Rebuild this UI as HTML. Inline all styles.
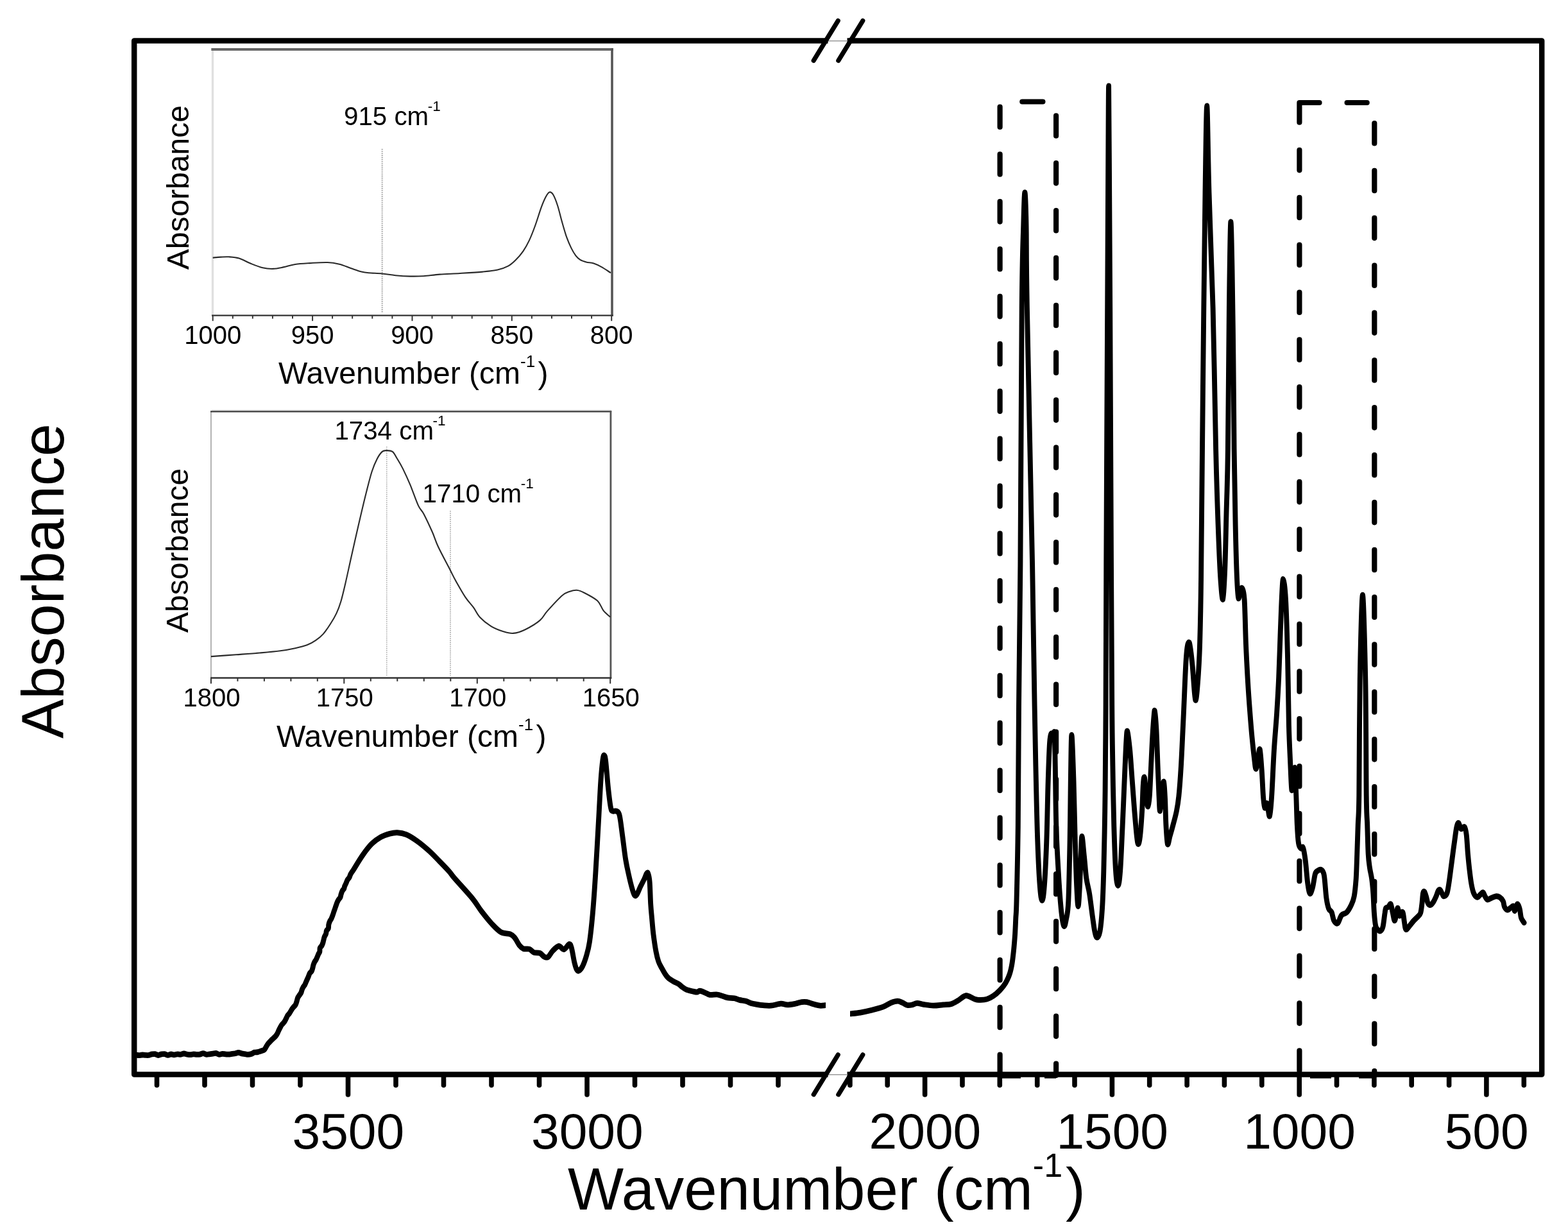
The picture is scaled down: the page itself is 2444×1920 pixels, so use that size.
<!DOCTYPE html>
<html lang="en"><head><meta charset="utf-8"><title>FTIR spectrum</title>
<style>html,body{margin:0;padding:0;background:#fff}svg{display:block}text{font-family:'Liberation Sans', sans-serif;fill:#000}</style>
</head><body>
<svg width="2444" height="1920" viewBox="0 0 2444 1920" role="img" aria-label="FTIR absorbance spectrum with two inset plots">
<rect width="2444" height="1920" fill="#fff"/>
<g id="frame" fill="none" stroke="#000" stroke-width="8.5" stroke-linejoin="round">
<rect x="209.2" y="63.4" width="2194.0" height="1611.1"/>
</g>
<rect x="1290.5" y="58.1" width="30.0" height="10.5" fill="#fff"/>
<line x1="1289.5" y1="63.7" x2="1321.5" y2="63.7" stroke="#999" stroke-width="1.4"/>
<rect x="1290.5" y="1669.2" width="30.0" height="10.5" fill="#fff"/>
<line x1="1289.5" y1="1674.8" x2="1321.5" y2="1674.8" stroke="#999" stroke-width="1.4"/>
<g id="ticks" stroke="#000" stroke-width="7.6" stroke-linecap="round">
<line x1="244.5" y1="1674.5" x2="244.5" y2="1691.2"/>
<line x1="319.0" y1="1674.5" x2="319.0" y2="1691.2"/>
<line x1="393.5" y1="1674.5" x2="393.5" y2="1691.2"/>
<line x1="468.0" y1="1674.5" x2="468.0" y2="1691.2"/>
<line x1="542.5" y1="1674.5" x2="542.5" y2="1706.0"/>
<line x1="617.0" y1="1674.5" x2="617.0" y2="1691.2"/>
<line x1="691.5" y1="1674.5" x2="691.5" y2="1691.2"/>
<line x1="766.0" y1="1674.5" x2="766.0" y2="1691.2"/>
<line x1="840.5" y1="1674.5" x2="840.5" y2="1691.2"/>
<line x1="915.0" y1="1674.5" x2="915.0" y2="1706.0"/>
<line x1="989.5" y1="1674.5" x2="989.5" y2="1691.2"/>
<line x1="1064.0" y1="1674.5" x2="1064.0" y2="1691.2"/>
<line x1="1138.5" y1="1674.5" x2="1138.5" y2="1691.2"/>
<line x1="1213.0" y1="1674.5" x2="1213.0" y2="1691.2"/>
<line x1="1324.9" y1="1674.5" x2="1324.9" y2="1691.2"/>
<line x1="1383.2" y1="1674.5" x2="1383.2" y2="1691.2"/>
<line x1="1441.6" y1="1674.5" x2="1441.6" y2="1706.0"/>
<line x1="1500.0" y1="1674.5" x2="1500.0" y2="1691.2"/>
<line x1="1558.3" y1="1674.5" x2="1558.3" y2="1691.2"/>
<line x1="1616.7" y1="1674.5" x2="1616.7" y2="1691.2"/>
<line x1="1675.0" y1="1674.5" x2="1675.0" y2="1691.2"/>
<line x1="1733.4" y1="1674.5" x2="1733.4" y2="1706.0"/>
<line x1="1791.7" y1="1674.5" x2="1791.7" y2="1691.2"/>
<line x1="1850.1" y1="1674.5" x2="1850.1" y2="1691.2"/>
<line x1="1908.4" y1="1674.5" x2="1908.4" y2="1691.2"/>
<line x1="1966.8" y1="1674.5" x2="1966.8" y2="1691.2"/>
<line x1="2025.2" y1="1674.5" x2="2025.2" y2="1706.0"/>
<line x1="2083.5" y1="1674.5" x2="2083.5" y2="1691.2"/>
<line x1="2141.9" y1="1674.5" x2="2141.9" y2="1691.2"/>
<line x1="2200.2" y1="1674.5" x2="2200.2" y2="1691.2"/>
<line x1="2258.6" y1="1674.5" x2="2258.6" y2="1691.2"/>
<line x1="2316.9" y1="1674.5" x2="2316.9" y2="1706.0"/>
<line x1="2375.3" y1="1674.5" x2="2375.3" y2="1691.2"/>
</g>
<g id="breaks" stroke="#000" stroke-width="7.2" stroke-linecap="round">
<line x1="1268.2" y1="94.4" x2="1306.2" y2="32.4"/>
<line x1="1306.8" y1="94.4" x2="1344.8" y2="32.4"/>
<line x1="1268.2" y1="1705.8" x2="1306.2" y2="1643.8"/>
<line x1="1306.8" y1="1705.8" x2="1344.8" y2="1643.8"/>
</g>
<g id="ticklabels" font-size="78.5" text-anchor="middle">
<text x="542.8" y="1789.6">3500</text>
<text x="915.3" y="1789.6">3000</text>
<text x="1441.9" y="1789.6">2000</text>
<text x="1733.7" y="1789.6">1500</text>
<text x="2025.5" y="1789.6">1000</text>
<text x="2317.2" y="1789.6">500</text>
</g>
<text x="885.0" y="1885.0" font-size="92.3">Wavenumber (cm<tspan font-size="52.0" dx="0.0" dy="-50.8">-1</tspan><tspan dx="5.0" dy="50.8">)</tspan></text>
<text transform="translate(99.0,1151) rotate(-90)" font-size="92.0">Absorbance</text>
<g id="boxes" fill="none" stroke="#000" stroke-width="8.2" stroke-linecap="round" stroke-linejoin="round">
<line x1="1558.6" y1="166.5" x2="1558.6" y2="1676.0" stroke-dasharray="31.40 42.46"/>
<line x1="1646.1" y1="180.3" x2="1646.1" y2="1676.0" stroke-dasharray="31.40 42.46"/>
<line x1="1593.3" y1="158.5" x2="1625.4" y2="158.5"/>
<path d="M2025.4,190.7 V160 H2056.5"/>
<line x1="2025.4" y1="233.9" x2="2025.4" y2="1676.0" stroke-dasharray="31.40 42.46"/>
<line x1="2142.3" y1="192.0" x2="2142.3" y2="1676.0" stroke-dasharray="31.40 42.46"/>
<line x1="2099.6" y1="160" x2="2130.7" y2="160"/>
</g>
<g id="boxbottoms" fill="#000">
<rect x="1562.0" y="1677" width="29.0" height="3.6"/>
<rect x="1628.0" y="1677" width="18.0" height="3.6"/>
<rect x="2042.0" y="1677" width="33.0" height="3.6"/>
<rect x="2118.0" y="1677" width="24.0" height="3.6"/>
</g>
<defs><clipPath id="clipL"><rect x="205" y="60" width="1082.0" height="1620"/></clipPath>
<clipPath id="clipR"><rect x="1325" y="60" width="1085" height="1620"/></clipPath></defs>
<g clip-path="url(#clipL)"><g id="spectrumL" transform="scale(1,1.110)" fill="none" stroke="#000" stroke-width="7.9" stroke-linejoin="round" stroke-linecap="round">
<path d="M211.7,1481.08C212.5,1481.17 215,1481.62 216.7,1481.62C218.4,1481.62 220,1481.11 221.7,1481.08C223.4,1481.05 225,1481.38 226.7,1481.44C228.4,1481.50 230,1481.67 231.7,1481.44C233.4,1481.22 235,1480.36 236.7,1480.09C238.4,1479.82 240,1479.58 241.7,1479.82C243.4,1480.06 245,1481.49 246.7,1481.53C248.4,1481.58 250,1480.36 251.7,1480.09C253.4,1479.82 255,1479.68 256.7,1479.91C258.4,1480.14 260,1481.40 261.7,1481.44C263.4,1481.49 265,1480.27 266.7,1480.18C268.4,1480.09 270,1480.92 271.7,1480.90C273.4,1480.89 275,1480.17 276.7,1480.09C278.4,1480.02 280,1480.59 281.7,1480.45C283.4,1480.32 285,1479.29 286.7,1479.28C288.4,1479.26 290,1480.11 291.7,1480.36C293.4,1480.62 295,1480.87 296.7,1480.81C298.4,1480.75 300,1480.06 301.7,1480.00C303.4,1479.94 305,1480.41 306.7,1480.45C308.4,1480.50 310,1480.53 311.7,1480.27C313.4,1480.02 315,1478.89 316.7,1478.92C318.4,1478.95 320,1480.27 321.7,1480.45C323.4,1480.63 325,1480.18 326.7,1480.00C328.4,1479.82 330,1479.58 331.7,1479.37C333.4,1479.16 335,1478.54 336.7,1478.74C338.4,1478.93 340,1480.41 341.7,1480.54C343.4,1480.68 345,1479.62 346.7,1479.55C348.4,1479.47 350,1479.95 351.7,1480.09C353.4,1480.23 355,1480.45 356.7,1480.36C358.4,1480.27 360,1479.77 361.7,1479.55C363.4,1479.32 365,1479.31 366.7,1479.01C368.4,1478.71 370,1477.72 371.7,1477.75C373.4,1477.78 375,1478.84 376.7,1479.19C378.4,1479.53 380,1479.59 381.7,1479.82C383.4,1480.05 385,1480.56 386.7,1480.54C388.4,1480.53 390,1480.23 391.7,1479.73C393.4,1479.23 395,1478.00 396.7,1477.57C398.4,1477.13 400,1477.43 401.7,1477.12C403.4,1476.80 405,1476.22 406.7,1475.68C408.4,1475.14 410.6,1474.86 411.9,1473.87C413.2,1472.89 413.8,1471.17 414.8,1469.76C415.8,1468.35 416.4,1466.97 417.8,1465.41C419.2,1463.84 421.1,1462.12 423,1460.36C424.9,1458.60 427.9,1456.45 429.5,1454.86C431.1,1453.28 431.6,1452.15 432.4,1450.86C433.2,1449.58 433.5,1448.47 434.2,1447.17C434.9,1445.87 435.7,1444.46 436.5,1443.06C437.3,1441.67 438.1,1440.13 439.2,1438.79C440.3,1437.46 441.8,1436.49 442.9,1435.06C444.1,1433.62 445,1431.74 445.9,1430.18C446.8,1428.62 447.4,1426.97 448.3,1425.71C449.2,1424.46 450.1,1424.09 451.2,1422.64C452.3,1421.20 453.9,1418.50 454.9,1417.04C456,1415.58 456.7,1414.92 457.6,1413.87C458.5,1412.83 459.8,1412.07 460.6,1410.76C461.4,1409.45 461.9,1407.69 462.5,1406.03C463.1,1404.37 463.4,1402.33 464.2,1400.80C464.9,1399.28 466.1,1398.04 467,1396.86C467.9,1395.67 468.7,1394.95 469.3,1393.69C469.9,1392.44 470.3,1390.61 470.8,1389.31C471.4,1388.01 471.9,1386.97 472.6,1385.87C473.3,1384.78 474.3,1383.98 475.1,1382.75C475.8,1381.52 476.5,1379.83 477.1,1378.48C477.8,1377.13 478.4,1375.98 479,1374.65C479.7,1373.31 480.4,1371.87 481,1370.45C481.6,1369.03 482.1,1367.27 482.9,1366.15C483.7,1365.03 484.8,1364.86 485.6,1363.72C486.3,1362.57 486.8,1360.83 487.3,1359.29C487.8,1357.75 488,1355.98 488.6,1354.48C489.1,1352.98 489.8,1351.50 490.5,1350.30C491.2,1349.11 492,1348.49 492.7,1347.30C493.4,1346.11 494.1,1344.52 494.7,1343.17C495.4,1341.83 495.9,1340.38 496.5,1339.22C497.1,1338.06 497.9,1337.58 498.3,1336.21C498.7,1334.84 498.2,1332.45 498.7,1331.02C499.3,1329.59 500.8,1328.86 501.6,1327.61C502.4,1326.36 502.9,1324.84 503.4,1323.54C503.8,1322.24 504,1321.10 504.4,1319.82C504.8,1318.54 504.9,1317.34 505.5,1315.86C506.1,1314.37 507.6,1312.43 508.1,1310.92C508.7,1309.42 508.3,1308.07 508.9,1306.82C509.5,1305.58 511.2,1304.88 511.8,1303.45C512.3,1302.01 512,1299.85 512.3,1298.21C512.7,1296.57 513.3,1294.94 514,1293.62C514.6,1292.30 515.5,1291.59 516.2,1290.27C516.9,1288.95 517.7,1287.04 518.3,1285.72C518.8,1284.40 519.2,1283.46 519.6,1282.34C520,1281.22 520.3,1280.23 520.8,1278.99C521.3,1277.75 521.9,1276.31 522.4,1274.91C522.9,1273.50 523.5,1271.98 524.1,1270.55C524.6,1269.12 525.2,1267.62 525.8,1266.34C526.5,1265.06 527.1,1264.00 527.9,1262.88C528.7,1261.76 529.9,1260.77 530.5,1259.61C531.1,1258.45 531.1,1257.32 531.5,1255.90C532,1254.47 532.6,1252.42 533.4,1251.05C534.1,1249.68 535.5,1248.76 536.2,1247.67C536.8,1246.57 536.6,1245.82 537.1,1244.48C537.7,1243.15 538.9,1241.16 539.6,1239.64C540.3,1238.12 540.7,1236.68 541.6,1235.36C542.4,1234.03 543.8,1233.03 544.6,1231.70C545.4,1230.37 545.7,1228.57 546.4,1227.39C547,1226.21 547.6,1225.72 548.4,1224.60C549.2,1223.47 548.5,1224.62 551.3,1220.63C554.1,1216.64 560.6,1206.61 565.3,1200.63C570,1194.65 574.7,1188.99 579.4,1184.77C584.1,1180.56 588.7,1177.70 593.4,1175.32C598.1,1172.93 603.2,1171.50 607.5,1170.45C611.8,1169.40 614.9,1168.80 619.2,1169.01C623.5,1169.22 628.2,1169.79 633.3,1171.71C638.4,1173.63 643.8,1176.77 649.6,1180.54C655.5,1184.31 662.5,1189.58 668.4,1194.32C674.3,1199.07 679.5,1204.16 684.8,1209.01C690.1,1213.86 696.1,1219.47 700,1223.42C703.9,1227.37 702.1,1226.40 708.1,1232.70C714.1,1239.01 729.2,1253.51 736.2,1261.26C743.2,1269.01 745.2,1273.21 750.3,1279.19C755.4,1285.17 761.6,1292.21 766.7,1297.12C771.8,1302.03 776,1306.26 780.7,1308.65C785.4,1311.04 791.3,1310.21 794.8,1311.44C798.3,1312.67 799.3,1313.33 801.8,1316.04C804.3,1318.74 807.7,1324.98 810,1327.66C812.3,1330.33 813.3,1331.26 815.8,1332.07C818.3,1332.88 822.5,1331.67 825.2,1332.52C827.9,1333.38 829.5,1336.26 832.2,1337.21C834.9,1338.15 838.9,1337.15 841.6,1338.20C844.3,1339.25 846.5,1342.63 848.6,1343.51C850.8,1344.40 852.4,1344.92 854.5,1343.51C856.6,1342.10 858.8,1337.58 861.5,1335.05C864.2,1332.51 868,1328.63 870.9,1328.29C873.8,1327.94 876.4,1333.42 879.1,1332.97C881.8,1332.52 885.3,1325.95 887.3,1325.59C889.2,1325.23 889.4,1326.41 890.8,1330.81C892.2,1335.21 894.1,1346.88 895.5,1351.98C896.9,1357.09 897.8,1359.62 899,1361.44C900.2,1363.26 901,1363.77 902.5,1362.88C904,1362.00 906.3,1359.71 908.3,1356.13C910.2,1352.54 912.4,1346.97 914.2,1341.35C916,1335.74 917.3,1331.92 918.9,1322.43C920.5,1312.94 922,1300.24 923.6,1284.41C925.2,1268.59 926.7,1249.28 928.2,1227.48C929.8,1205.68 931.5,1175.41 932.9,1153.60C934.3,1131.80 935.3,1111.13 936.4,1096.67C937.5,1082.21 938.6,1072.88 939.5,1066.85C940.4,1060.81 941,1060.06 941.8,1060.45C942.6,1060.84 943.2,1061.40 944.2,1069.19C945.2,1076.98 946.8,1096.31 948.1,1107.21C949.4,1118.11 950.9,1129.32 952.1,1134.59C953.3,1139.86 953.7,1138.12 955.2,1138.83C956.7,1139.53 959.2,1137.78 961,1138.83C962.8,1139.88 964.1,1139.16 965.7,1145.14C967.3,1151.11 968.8,1164.47 970.4,1174.68C972,1184.89 973.5,1197.60 975.1,1206.40C976.7,1215.20 978,1220.45 979.8,1227.48C981.5,1234.50 984,1243.63 985.6,1248.56C987.2,1253.48 987.9,1255.80 989.1,1257.03C990.3,1258.26 991,1258.06 992.6,1255.95C994.2,1253.83 996.5,1248.02 998.5,1244.32C1000.5,1240.63 1002.8,1236.77 1004.4,1233.78C1006,1230.80 1006.9,1227.63 1007.9,1226.40C1008.9,1225.17 1009.4,1224.46 1010.2,1226.40C1011,1228.33 1011.9,1230.86 1012.6,1238.02C1013.3,1245.18 1013.6,1260.77 1014.2,1269.37C1014.8,1277.97 1015.4,1282.39 1016.1,1289.64C1016.8,1296.89 1017.5,1305.15 1018.6,1312.88C1019.7,1320.62 1021.2,1329.85 1022.5,1336.04C1023.8,1342.22 1024.9,1346.13 1026.4,1350.00C1027.9,1353.87 1029.8,1356.38 1031.5,1359.28C1033.2,1362.18 1035,1365.08 1036.7,1367.39C1038.4,1369.70 1039.7,1371.41 1041.8,1373.15C1043.9,1374.89 1046.9,1376.47 1049.5,1377.84C1052.1,1379.20 1054.9,1380.00 1057.3,1381.35C1059.7,1382.70 1061.6,1384.59 1063.7,1385.95C1065.8,1387.30 1067.3,1388.45 1070.1,1389.46C1072.9,1390.47 1077.7,1391.41 1080.5,1391.98C1083.3,1392.55 1085.2,1393.02 1086.9,1392.88C1088.6,1392.75 1088.9,1391.07 1090.8,1391.17C1092.7,1391.28 1095.9,1392.60 1098.5,1393.51C1101.1,1394.43 1103,1396.19 1106.2,1396.67C1109.4,1397.15 1114.4,1396.05 1117.8,1396.40C1121.2,1396.74 1124,1398.00 1126.8,1398.74C1129.6,1399.47 1131.5,1400.33 1134.5,1400.81C1137.5,1401.29 1141.8,1401.10 1144.8,1401.62C1147.8,1402.15 1149.6,1403.29 1152.6,1403.96C1155.6,1404.64 1159.9,1404.91 1162.9,1405.68C1165.9,1406.44 1167.8,1407.79 1170.6,1408.56C1173.4,1409.32 1176.9,1409.79 1180,1410.27C1183.1,1410.75 1185.5,1411.17 1189.1,1411.44C1192.7,1411.71 1197.1,1412.27 1201.8,1411.89C1206.5,1411.52 1212.8,1409.38 1217,1409.19C1221.2,1408.99 1223.3,1410.72 1227.1,1410.72C1230.9,1410.72 1235.9,1409.83 1239.7,1409.19C1243.5,1408.54 1246.9,1407.24 1249.9,1406.85C1252.9,1406.46 1254.5,1406.38 1257.5,1406.85C1260.5,1407.31 1264.2,1408.80 1267.6,1409.64C1271,1410.48 1274.5,1411.59 1277.7,1411.89C1280.9,1412.19 1285,1411.52 1286.5,1411.44"/>
</g></g>
<g clip-path="url(#clipR)"><g id="spectrumR" transform="scale(1,1.110)" fill="none" stroke="#000" stroke-width="7.9" stroke-linejoin="round" stroke-linecap="round">
<path d="M1325.3,1423.33C1327.9,1423.06 1335.4,1422.55 1340.9,1421.71C1346.5,1420.87 1352.7,1419.62 1358.6,1418.29C1364.5,1416.95 1371.3,1415.44 1376.4,1413.69C1381.5,1411.95 1385.2,1409.20 1389,1407.84C1392.8,1406.47 1396.1,1405.50 1399.1,1405.50C1402,1405.50 1404.2,1406.88 1406.7,1407.84C1409.2,1408.80 1411.8,1410.78 1414.3,1411.26C1416.8,1411.74 1419.4,1411.19 1421.9,1410.72C1424.4,1410.26 1426.5,1408.54 1429.5,1408.47C1432.5,1408.39 1435.4,1409.70 1439.6,1410.27C1443.8,1410.84 1449.7,1411.82 1454.8,1411.89C1459.9,1411.97 1465.4,1411.10 1470,1410.72C1474.6,1410.35 1478.8,1410.59 1482.6,1409.64C1486.4,1408.69 1489.8,1406.64 1492.7,1405.05C1495.7,1403.45 1498.2,1401.31 1500.3,1400.09C1502.4,1398.87 1503.5,1397.87 1505.4,1397.75C1507.3,1397.63 1509.2,1398.45 1511.7,1399.37C1514.2,1400.29 1517.8,1402.48 1520.6,1403.24C1523.3,1404.01 1525.2,1404.04 1528.2,1403.96C1531.2,1403.89 1534.9,1403.75 1538.3,1402.79C1541.7,1401.83 1545,1400.29 1548.4,1398.20C1551.8,1396.11 1555.3,1393.30 1558.5,1390.27C1561.7,1387.24 1564.9,1383.80 1567.4,1380.00C1569.9,1376.20 1572,1372.04 1573.7,1367.48C1575.4,1362.91 1576.5,1358.12 1577.5,1352.61C1578.5,1347.10 1579.2,1341.25 1580,1334.41C1580.8,1327.58 1581.5,1319.22 1582.1,1311.62C1582.6,1304.02 1582.9,1296.56 1583.3,1288.83C1583.7,1281.10 1583.9,1286.73 1584.5,1265.23C1585.1,1243.72 1586.2,1205.53 1586.8,1159.82C1587.4,1114.11 1587.4,1052.16 1588,990.99C1588.6,929.82 1589.6,885.89 1590.4,792.79C1591.2,699.70 1591.9,512.01 1592.7,432.43C1593.5,352.85 1594.5,342.34 1595.3,315.32C1596.1,288.29 1596.7,270.27 1597.4,270.27C1598.1,270.27 1598.9,288.29 1599.5,315.32C1600.1,342.34 1599.3,352.85 1600.9,432.43C1602.5,512.01 1607.1,699.70 1609.1,792.79C1611,885.89 1611.6,940.38 1612.6,990.99C1613.6,1041.61 1614.1,1064.83 1614.9,1096.49C1615.7,1128.14 1616.3,1156.29 1617.3,1180.90C1618.3,1205.51 1619.6,1230.24 1620.8,1244.14C1622,1258.05 1623.1,1264.32 1624.3,1264.32C1625.5,1264.32 1626.6,1258.05 1627.8,1244.14C1629,1230.24 1630.3,1205.51 1631.3,1180.90C1632.3,1156.29 1632.9,1119.35 1633.7,1096.49C1634.5,1073.62 1635.2,1054.77 1636,1043.69C1636.8,1032.61 1637.5,1031.58 1638.4,1030.00C1639.3,1028.42 1640.4,1034.28 1641.3,1034.23C1642.2,1034.19 1643,1022.67 1643.6,1029.73C1644.2,1036.79 1644.3,1054.95 1644.8,1076.58C1645.2,1098.20 1645.5,1135.14 1646.3,1159.46C1647.1,1183.78 1648.3,1203.15 1649.6,1222.52C1650.8,1241.89 1652.4,1262.76 1653.8,1275.68C1655.2,1288.59 1656.8,1297.60 1658.2,1300.00C1659.6,1302.40 1660.8,1295.89 1662,1290.09C1663.2,1284.29 1664.4,1283.42 1665.3,1265.23C1666.2,1247.03 1667,1209.02 1667.6,1180.90C1668.2,1152.78 1668.3,1121.31 1668.8,1096.49C1669.3,1071.67 1669.6,1031.98 1670.4,1031.98C1671.2,1031.98 1672.6,1071.67 1673.5,1096.49C1674.4,1121.31 1675,1156.29 1675.8,1180.90C1676.6,1205.51 1677.4,1228.86 1678.2,1244.14C1679,1259.43 1679.7,1272.61 1680.5,1272.61C1681.3,1272.61 1682.2,1255.92 1682.9,1244.14C1683.6,1232.37 1684.1,1213.62 1684.7,1201.98C1685.3,1190.35 1685.5,1174.32 1686.4,1174.32C1687.3,1174.32 1688.7,1192.10 1689.9,1201.98C1691.1,1211.86 1692,1224.82 1693.4,1233.60C1694.8,1242.39 1696.5,1245.89 1698.1,1254.68C1699.7,1263.48 1701.4,1277.60 1702.8,1286.40C1704.2,1295.20 1705.1,1302.49 1706.3,1307.48C1707.5,1312.46 1708.4,1316.31 1709.8,1316.31C1711.2,1316.31 1713.1,1314.22 1714.5,1307.48C1715.9,1300.74 1717,1289.92 1718,1275.86C1719,1261.79 1719.6,1245.93 1720.3,1223.06C1721,1200.20 1721.7,1166.77 1722.2,1138.65C1722.7,1110.53 1722.9,1078.93 1723.1,1054.32C1723.3,1029.71 1723.4,1034.58 1723.6,990.99C1723.8,947.40 1723.9,885.89 1724.3,792.79C1724.7,699.70 1725.7,527.03 1726.2,432.43C1726.7,337.84 1727,277.18 1727.3,225.23C1727.6,173.27 1727.8,120.72 1728.1,120.72C1728.4,120.72 1728.6,173.27 1728.9,225.23C1729.2,277.18 1729.7,337.84 1730.2,432.43C1730.7,527.03 1731.5,699.70 1732,792.79C1732.5,885.89 1732.8,943.89 1733.2,990.99C1733.6,1038.09 1733.9,1047.27 1734.4,1075.41C1734.9,1103.54 1735.5,1135.21 1736.3,1159.82C1737.1,1184.43 1738,1209.11 1739.1,1223.06C1740.1,1237.01 1741.4,1243.51 1742.6,1243.51C1743.8,1243.51 1744.9,1237.01 1746.1,1223.06C1747.3,1209.11 1748.4,1182.67 1749.6,1159.82C1750.8,1136.97 1752.1,1105.99 1753.1,1085.95C1754.1,1065.90 1754.8,1049.40 1755.5,1039.55C1756.2,1029.70 1756.3,1024.38 1757.3,1026.85C1758.3,1029.31 1760,1042.72 1761.3,1054.32C1762.5,1065.93 1763.6,1082.43 1764.8,1096.49C1766,1110.54 1767.1,1125.65 1768.3,1138.65C1769.5,1151.65 1770.9,1166.76 1771.9,1174.50C1772.9,1182.25 1773.4,1185.14 1774.2,1185.14C1775,1185.14 1776,1182.25 1777,1174.50C1778,1166.76 1779.3,1150.95 1780.1,1138.65C1780.9,1126.35 1781.2,1108.45 1781.9,1100.72C1782.6,1092.99 1783.1,1088.74 1784,1092.25C1784.9,1095.77 1786.2,1115.12 1787.1,1121.80C1788,1128.48 1788.6,1133.05 1789.4,1132.34C1790.2,1131.64 1791,1127.06 1791.8,1117.57C1792.6,1108.08 1793.3,1089.47 1794.1,1075.41C1794.9,1061.34 1795.6,1045.17 1796.4,1033.15C1797.2,1021.14 1798.2,1009.01 1798.8,1003.33C1799.4,997.66 1799.4,995.89 1800,999.10C1800.6,1002.31 1801.5,1009.89 1802.3,1022.61C1803.1,1035.33 1803.9,1059.58 1804.6,1075.41C1805.3,1091.23 1805.9,1107.03 1806.5,1117.57C1807.1,1128.11 1807.3,1139.47 1808.1,1138.65C1808.9,1137.82 1810.5,1119.46 1811.5,1112.61C1812.5,1105.77 1813.2,1096.07 1814,1097.57C1814.8,1099.07 1815.4,1111.25 1816,1121.62C1816.6,1132.00 1816.8,1149.23 1817.5,1159.82C1818.2,1170.41 1818.9,1182.69 1819.9,1185.14C1820.9,1187.58 1821.9,1179.43 1823.4,1174.50C1825,1169.58 1827.5,1161.56 1829.2,1155.59C1831,1149.61 1832.5,1144.98 1833.9,1138.65C1835.3,1132.31 1836.2,1128.11 1837.4,1117.57C1838.6,1107.03 1839.7,1093.50 1840.9,1075.41C1842.1,1057.31 1843.1,1034.71 1844.5,1009.01C1845.9,983.30 1847.5,938.98 1849.1,921.17C1850.6,903.36 1852.3,900.41 1853.8,902.16C1855.3,903.92 1856.9,919.76 1858.3,931.71C1859.7,943.66 1861,965.62 1862,973.87C1863,982.13 1863.4,985.92 1864.4,981.26C1865.4,976.61 1866.9,959.34 1867.9,945.95C1868.9,932.55 1869.5,923.42 1870.2,900.90C1870.9,878.38 1871.5,855.86 1872.1,810.81C1872.7,765.77 1873.3,693.69 1874,630.63C1874.7,567.57 1875.5,492.49 1876.3,432.43C1877,372.37 1877.7,317.57 1878.5,270.27C1879.3,222.97 1880.2,148.65 1881.2,148.65C1882.2,148.65 1882.9,222.97 1884.5,270.27C1886.1,317.57 1888.8,372.37 1890.6,432.43C1892.4,492.49 1893.8,580.02 1895.1,630.63C1896.4,681.25 1897.4,706.25 1898.6,736.13C1899.8,766.01 1901,792.33 1902.2,809.91C1903.5,827.49 1904.9,843.36 1906.1,841.62C1907.3,839.88 1908.3,819.61 1909.2,799.46C1910.1,779.31 1910.7,748.86 1911.5,720.72C1912.3,692.58 1913.2,678.68 1913.9,630.63C1914.6,582.58 1915.2,485.44 1915.9,432.43C1916.6,379.43 1917.4,321.62 1918.2,312.61C1919,303.60 1919.8,346.40 1920.5,378.38C1921.2,410.36 1921.9,462.46 1922.4,504.50C1922.9,546.55 1923.1,592.03 1923.6,630.63C1924.1,669.23 1924.9,706.25 1925.6,736.13C1926.3,766.01 1927.1,792.66 1927.9,809.91C1928.7,827.16 1929.5,836.19 1930.3,839.64C1931.1,843.09 1932,832.94 1933,830.63C1934,828.32 1935,823.93 1936.1,825.77C1937.2,827.60 1938.6,828.44 1939.6,841.62C1940.6,854.80 1941.1,885.53 1942,904.86C1942.9,924.20 1944,942.28 1945,957.66C1946,973.03 1946.9,984.20 1948,997.12C1949.1,1010.03 1950.3,1023.87 1951.5,1035.14C1952.7,1046.40 1954,1057.30 1955,1064.68C1956,1072.07 1956.5,1078.98 1957.4,1079.46C1958.3,1079.94 1959.5,1072.15 1960.5,1067.57C1961.5,1062.99 1962.7,1049.65 1963.7,1051.98C1964.7,1054.31 1965.8,1070.27 1966.7,1081.53C1967.6,1092.79 1968.3,1110.75 1969.1,1119.55C1969.9,1128.35 1970.4,1132.93 1971.4,1134.32C1972.4,1135.72 1973.7,1125.99 1974.9,1127.93C1976.2,1129.86 1977.7,1147.75 1978.9,1145.95C1980.1,1144.14 1981.1,1132.43 1982.2,1117.12C1983.3,1101.80 1984.5,1073.57 1985.8,1054.05C1987.1,1034.53 1989,1017.27 1990.2,1000.00C1991.4,982.73 1992.3,969.22 1993.2,950.45C1994.1,931.68 1994.9,905.86 1995.7,887.39C1996.5,868.92 1997.1,852.01 1997.8,839.64C1998.5,827.27 1999.1,812.82 2000.1,813.15C2001.1,813.48 2002.8,822.81 2004,841.62C2005.2,860.44 2006.3,896.59 2007.1,926.04C2007.9,955.48 2008.2,994.13 2008.9,1018.29C2009.6,1042.45 2010.5,1055.87 2011.2,1070.99C2012,1086.11 2012.6,1105.08 2013.4,1109.01C2014.2,1112.94 2015.2,1099.70 2016,1094.59C2016.8,1089.49 2017.6,1074.62 2018.3,1078.38C2019,1082.13 2019.7,1103.90 2020.3,1117.12C2020.9,1130.33 2021.2,1146.55 2021.8,1157.66C2022.4,1168.77 2023,1178.23 2024,1183.78C2025,1189.34 2026.3,1189.92 2027.5,1190.99C2028.7,1192.06 2029.9,1187.33 2031.1,1190.18C2032.3,1193.03 2033.5,1199.85 2034.7,1208.11C2035.9,1216.37 2037,1232.00 2038.2,1239.73C2039.4,1247.46 2040.4,1253.47 2041.7,1254.50C2043,1255.54 2044.6,1250.51 2046,1245.95C2047.4,1241.38 2048.6,1231.02 2049.9,1227.12C2051.2,1223.21 2052.4,1223.51 2054,1222.52C2055.6,1221.53 2057.7,1220.06 2059.3,1221.17C2061,1222.28 2062.6,1222.57 2063.9,1229.19C2065.2,1235.81 2066.2,1253.15 2067.4,1260.90C2068.6,1268.65 2069.6,1272.34 2071,1275.68C2072.4,1279.01 2074.2,1278.09 2075.6,1280.90C2077,1283.71 2077.6,1289.95 2079.2,1292.52C2080.8,1295.09 2083.1,1297.54 2085,1296.31C2086.9,1295.08 2088.6,1287.70 2090.9,1285.14C2093.2,1282.57 2096.6,1283.30 2099.1,1280.90C2101.6,1278.50 2104.2,1274.47 2106.1,1270.72C2108,1266.97 2109.4,1264.55 2110.7,1258.38C2112,1252.21 2112.9,1243.53 2113.7,1233.69C2114.4,1223.86 2114.7,1211.94 2115.2,1199.37C2115.7,1186.80 2116.2,1172.00 2116.7,1158.29C2117.2,1144.58 2117.8,1151.01 2118.3,1117.12C2118.8,1083.23 2118.8,1001.92 2119.7,954.95C2120.6,907.99 2122.5,835.32 2123.9,835.32C2125.3,835.32 2127.3,907.99 2128.3,954.95C2129.3,1001.92 2129.2,1083.23 2129.7,1117.12C2130.2,1151.01 2130.7,1144.58 2131.2,1158.29C2131.7,1172.00 2132.1,1189.31 2132.7,1199.37C2133.3,1209.43 2134.1,1212.93 2135,1218.65C2135.9,1224.37 2137.2,1227.76 2138.1,1233.69C2139,1239.62 2139.7,1246.23 2140.3,1254.23C2140.9,1262.24 2141.3,1274.16 2141.9,1281.71C2142.5,1289.26 2143.2,1295.66 2144.1,1299.55C2145,1303.44 2145.9,1303.80 2147.2,1305.05C2148.5,1306.29 2150.4,1307.72 2151.8,1307.03C2153.2,1306.34 2154.5,1305.12 2155.6,1300.90C2156.7,1296.68 2157.8,1286.05 2158.6,1281.71C2159.3,1277.37 2159.2,1276.25 2160.1,1274.86C2161,1273.48 2162.6,1274.34 2163.9,1273.42C2165.2,1272.51 2166.5,1267.99 2167.7,1269.37C2168.8,1270.75 2169.8,1277.82 2170.8,1281.71C2171.8,1285.60 2172.8,1292.70 2173.8,1292.70C2174.8,1292.70 2176.1,1284.68 2176.9,1281.71C2177.7,1278.74 2177.9,1274.19 2178.7,1274.86C2179.4,1275.54 2180.5,1284.73 2181.4,1285.77C2182.3,1286.80 2183.1,1281.76 2184,1281.08C2184.9,1280.41 2186,1279.32 2186.8,1281.71C2187.7,1284.10 2188.3,1291.52 2189.1,1295.41C2189.8,1299.29 2189.9,1304.35 2191.3,1305.05C2192.7,1305.74 2195.4,1301.61 2197.4,1299.55C2199.4,1297.49 2201.5,1294.76 2203.5,1292.70C2205.5,1290.65 2207.8,1289.04 2209.6,1287.21C2211.4,1285.38 2213,1284.91 2214.2,1281.71C2215.3,1278.51 2215.9,1272.60 2216.5,1268.02C2217.1,1263.44 2217.4,1256.88 2218,1254.23C2218.6,1251.59 2219.4,1251.25 2220.3,1252.16C2221.2,1253.08 2222.4,1257.09 2223.3,1259.73C2224.2,1262.37 2224.6,1266.19 2225.6,1268.02C2226.6,1269.85 2228,1270.96 2229.4,1270.72C2230.8,1270.48 2232.5,1268.63 2234,1266.58C2235.5,1264.52 2237.2,1261.01 2238.5,1258.38C2239.8,1255.75 2240.6,1252.30 2241.6,1250.81C2242.6,1249.32 2243.5,1248.65 2244.6,1249.46C2245.7,1250.27 2247.4,1254.19 2248.4,1255.68C2249.4,1257.16 2249.5,1258.62 2250.7,1258.38C2251.8,1258.14 2254,1257.21 2255.3,1254.23C2256.6,1251.26 2257.3,1246.25 2258.3,1240.54C2259.3,1234.83 2260.4,1226.86 2261.4,1220.00C2262.4,1213.14 2263.4,1206.23 2264.4,1199.37C2265.4,1192.51 2266.5,1185.23 2267.5,1178.83C2268.5,1172.43 2269.5,1164.88 2270.5,1160.99C2271.5,1157.10 2272.4,1155.03 2273.5,1155.50C2274.6,1155.96 2275.8,1162.87 2277.3,1163.78C2278.8,1164.70 2281.3,1159.62 2282.7,1160.99C2284.1,1162.36 2284.8,1165.59 2285.7,1171.98C2286.6,1178.38 2287.2,1191.37 2288,1199.37C2288.8,1207.37 2289.4,1213.14 2290.3,1220.00C2291.2,1226.86 2292.2,1234.83 2293.3,1240.54C2294.4,1246.25 2295.6,1251.04 2297.1,1254.23C2298.6,1257.43 2300.7,1259.49 2302.5,1259.73C2304.3,1259.97 2306.3,1256.82 2307.8,1255.68C2309.3,1254.53 2310.5,1252.43 2311.6,1252.88C2312.7,1253.33 2313.4,1256.67 2314.6,1258.38C2315.8,1260.09 2317,1262.70 2318.5,1263.15C2320,1263.60 2321.7,1261.88 2323.8,1261.08C2326,1260.29 2329.1,1258.60 2331.4,1258.38C2333.7,1258.15 2335.6,1258.59 2337.5,1259.73C2339.4,1260.87 2341.5,1262.94 2342.8,1265.23C2344.1,1267.51 2343.9,1271.37 2345.1,1273.42C2346.2,1275.48 2348.2,1277.33 2349.7,1277.57C2351.2,1277.81 2352.7,1275.78 2354.2,1274.86C2355.7,1273.95 2357.7,1271.40 2358.8,1272.07C2360,1272.75 2360.1,1279.37 2361.1,1278.92C2362.1,1278.47 2363.6,1269.82 2364.9,1269.37C2366.2,1268.92 2367.7,1273.02 2368.7,1276.22C2369.7,1279.41 2369.9,1285.36 2371,1288.56C2372.1,1291.76 2374.8,1294.26 2375.5,1295.41"/>
</g></g>
<g id="inset1">
<line x1="331.5" y1="78" x2="331.5" y2="491" stroke="#e0e0e0" stroke-width="3.4"/>
<line x1="329.3" y1="76.9" x2="956" y2="76.9" stroke="#666" stroke-width="4"/>
<line x1="954" y1="75" x2="954" y2="492.6" stroke="#555" stroke-width="3.6"/>
<line x1="330" y1="491.6" x2="955.8" y2="491.6" stroke="#333" stroke-width="2.3"/>
<g stroke="#333" stroke-width="2">
<line x1="331.7" y1="491.6" x2="331.7" y2="500.2"/>
<line x1="362.8" y1="491.6" x2="362.8" y2="496.6"/>
<line x1="393.8" y1="491.6" x2="393.8" y2="496.6"/>
<line x1="424.9" y1="491.6" x2="424.9" y2="496.6"/>
<line x1="456.0" y1="491.6" x2="456.0" y2="496.6"/>
<line x1="487.1" y1="491.6" x2="487.1" y2="500.2"/>
<line x1="518.1" y1="491.6" x2="518.1" y2="496.6"/>
<line x1="549.2" y1="491.6" x2="549.2" y2="496.6"/>
<line x1="580.3" y1="491.6" x2="580.3" y2="496.6"/>
<line x1="611.4" y1="491.6" x2="611.4" y2="496.6"/>
<line x1="642.5" y1="491.6" x2="642.5" y2="500.2"/>
<line x1="673.5" y1="491.6" x2="673.5" y2="496.6"/>
<line x1="704.6" y1="491.6" x2="704.6" y2="496.6"/>
<line x1="735.7" y1="491.6" x2="735.7" y2="496.6"/>
<line x1="766.8" y1="491.6" x2="766.8" y2="496.6"/>
<line x1="797.8" y1="491.6" x2="797.8" y2="500.2"/>
<line x1="828.9" y1="491.6" x2="828.9" y2="496.6"/>
<line x1="860.0" y1="491.6" x2="860.0" y2="496.6"/>
<line x1="891.0" y1="491.6" x2="891.0" y2="496.6"/>
<line x1="922.1" y1="491.6" x2="922.1" y2="496.6"/>
<line x1="953.2" y1="491.6" x2="953.2" y2="500.2"/>
</g>
<g font-size="40" text-anchor="middle">
<text x="331.7" y="536.2">1000</text>
<text x="487.1" y="536.2">950</text>
<text x="642.5" y="536.2">900</text>
<text x="797.8" y="536.2">850</text>
<text x="953.2" y="536.2">800</text>
</g>
<text x="434.0" y="598.0" font-size="48.0">Wavenumber (cm<tspan font-size="26.0" dx="0.0" dy="-25.7">-1</tspan><tspan dx="4.5" dy="25.7">)</tspan></text>
<text transform="translate(293.6,420.3) rotate(-90)" font-size="48">Absorbance</text>
<line x1="595.7" y1="232" x2="595.7" y2="487" stroke="#aaa" stroke-width="2.4" stroke-dasharray="1.6 1.6"/>
<text x="536.0" y="194.8" font-size="40.3">915 cm<tspan font-size="22.5" dx="-1.5" dy="-22.3">-1</tspan></text>
<path d="M331.7,401.60C333.8,401.43 339.9,400.82 344.0,400.60C348.1,400.38 351.7,399.97 356.5,400.30C361.3,400.63 366.9,400.85 372.6,402.60C378.4,404.35 384.9,408.35 391.0,410.80C397.1,413.25 403.6,415.95 409.4,417.30C415.1,418.65 420.1,419.05 425.5,418.90C430.9,418.75 435.9,417.55 441.6,416.40C447.4,415.25 453.1,413.05 460.0,412.00C466.9,410.95 474.6,410.60 483.0,410.10C491.4,409.60 502.9,408.72 510.6,409.00C518.3,409.28 522.9,410.27 529.0,411.80C535.1,413.33 541.6,416.25 547.4,418.20C553.1,420.15 558.9,422.32 563.5,423.50C568.1,424.68 569.6,424.80 575.0,425.30C580.4,425.80 588.8,425.85 595.7,426.50C602.6,427.15 609.1,428.52 616.4,429.20C623.7,429.88 632.1,430.43 639.4,430.60C646.7,430.77 652.4,430.70 660.1,430.20C667.8,429.70 675.9,428.30 685.4,427.60C694.9,426.90 705.9,426.67 717.0,426.00C728.1,425.33 742.4,424.50 752.2,423.60C762.0,422.70 769.0,422.08 775.6,420.60C782.2,419.12 787.3,417.25 792.0,414.70C796.7,412.15 799.8,409.20 803.7,405.30C807.6,401.40 812.0,396.37 815.5,391.30C819.0,386.23 821.7,381.53 824.8,374.90C827.9,368.27 831.1,360.08 834.2,351.50C837.3,342.92 840.9,330.82 843.6,323.40C846.3,315.98 848.5,310.98 850.6,307.00C852.7,303.02 854.5,300.08 856.4,299.50C858.3,298.92 860.1,299.92 862.3,303.50C864.4,307.08 867.0,313.78 869.3,321.00C871.6,328.22 873.9,338.60 876.3,346.80C878.6,355.00 881.0,363.57 883.4,370.20C885.8,376.83 888.1,381.92 890.4,386.60C892.7,391.28 895.1,395.25 897.4,398.30C899.7,401.35 901.7,403.22 904.4,404.90C907.1,406.58 910.3,407.47 913.8,408.40C917.3,409.33 921.6,409.25 925.5,410.50C929.4,411.75 932.8,413.45 937.2,415.90C941.6,418.35 949.5,423.65 952.0,425.20" fill="none" stroke="#2a2a2a" stroke-width="2.1"/>
</g>
<g id="inset2">
<line x1="330" y1="639.2" x2="953" y2="639.2" stroke="#ddd" stroke-width="1.6"/>
<line x1="328.9" y1="641" x2="328.9" y2="1057" stroke="#aaa" stroke-width="1.8"/>
<line x1="328" y1="641.3" x2="953.2" y2="641.3" stroke="#3a3a3a" stroke-width="2.2"/>
<line x1="951.9" y1="640.2" x2="951.9" y2="1057.8" stroke="#555" stroke-width="2.8"/>
<line x1="328" y1="1056.6" x2="953.2" y2="1056.6" stroke="#333" stroke-width="2.5"/>
<g stroke="#333" stroke-width="2">
<line x1="328.9" y1="1056.6" x2="328.9" y2="1065.4"/>
<line x1="370.4" y1="1056.6" x2="370.4" y2="1061.8"/>
<line x1="411.9" y1="1056.6" x2="411.9" y2="1061.8"/>
<line x1="453.4" y1="1056.6" x2="453.4" y2="1061.8"/>
<line x1="494.8" y1="1056.6" x2="494.8" y2="1061.8"/>
<line x1="536.3" y1="1056.6" x2="536.3" y2="1065.4"/>
<line x1="577.8" y1="1056.6" x2="577.8" y2="1061.8"/>
<line x1="619.3" y1="1056.6" x2="619.3" y2="1061.8"/>
<line x1="660.8" y1="1056.6" x2="660.8" y2="1061.8"/>
<line x1="702.3" y1="1056.6" x2="702.3" y2="1061.8"/>
<line x1="743.8" y1="1056.6" x2="743.8" y2="1065.4"/>
<line x1="785.3" y1="1056.6" x2="785.3" y2="1061.8"/>
<line x1="826.7" y1="1056.6" x2="826.7" y2="1061.8"/>
<line x1="868.2" y1="1056.6" x2="868.2" y2="1061.8"/>
<line x1="909.7" y1="1056.6" x2="909.7" y2="1061.8"/>
<line x1="951.2" y1="1056.6" x2="951.2" y2="1065.4"/>
</g>
<g font-size="40" text-anchor="middle">
<text x="329.9" y="1100.8">1800</text>
<text x="537.3" y="1100.8">1750</text>
<text x="744.8" y="1100.8">1700</text>
<text x="952.2" y="1100.8">1650</text>
</g>
<text x="431.0" y="1164.0" font-size="48.0">Wavenumber (cm<tspan font-size="26.0" dx="0.0" dy="-25.7">-1</tspan><tspan dx="4.5" dy="25.7">)</tspan></text>
<text transform="translate(293.0,986) rotate(-90)" font-size="48">Absorbance</text>
<line x1="602.8" y1="696" x2="602.8" y2="1053" stroke="#999" stroke-width="1.3" stroke-dasharray="1.6 1.6"/>
<line x1="702" y1="796" x2="702" y2="1053" stroke="#aaa" stroke-width="1.8" stroke-dasharray="1.6 1.6"/>
<text x="521.4" y="684.9" font-size="40.3">1734 cm<tspan font-size="22.5" dx="-1.5" dy="-22.3">-1</tspan></text>
<text x="658.6" y="782.8" font-size="40.3">1710 cm<tspan font-size="22.5" dx="-1.5" dy="-22.3">-1</tspan></text>
<path d="M328.9,1023.10C335.4,1022.63 355.4,1021.23 368.0,1020.30C380.6,1019.37 393.3,1018.50 404.8,1017.50C416.3,1016.50 427.8,1015.52 437.0,1014.30C446.2,1013.08 453.1,1011.70 460.0,1010.20C466.9,1008.70 473.0,1007.37 478.4,1005.30C483.8,1003.23 488.0,1000.67 492.2,997.80C496.4,994.93 499.9,992.40 503.7,988.10C507.5,983.80 511.8,977.37 515.2,972.00C518.7,966.63 521.7,961.65 524.4,955.90C527.1,950.15 529.0,945.17 531.3,937.50C533.6,929.83 535.5,921.42 538.2,909.90C540.9,898.38 544.0,883.75 547.4,868.40C550.8,853.05 555.1,834.28 558.9,817.80C562.7,801.32 566.9,783.30 570.4,769.50C573.9,755.70 576.7,744.02 579.6,735.00C582.5,725.98 584.9,720.58 587.6,715.40C590.3,710.22 593.2,706.12 595.7,703.90C598.2,701.68 599.9,702.10 602.6,702.10C605.3,702.10 609.1,701.87 611.8,703.90C614.5,705.93 616.0,709.88 618.7,714.30C621.4,718.72 624.5,723.50 627.9,730.40C631.3,737.30 635.4,746.12 639.4,755.70C643.4,765.28 648.5,780.35 652.0,787.90C655.5,795.45 656.9,794.10 660.5,801.00C664.1,807.90 670.1,820.75 673.9,829.30C677.7,837.85 678.5,842.52 683.1,852.30C687.7,862.08 697.0,879.17 701.5,888.00C706.0,896.83 706.4,898.20 710.4,905.30C714.4,912.40 720.7,923.70 725.3,930.60C729.9,937.50 734.2,941.42 738.0,946.70C741.8,951.98 743.7,957.40 748.3,962.30C752.9,967.20 759.6,972.48 765.6,976.10C771.6,979.72 778.2,982.20 784.0,984.00C789.8,985.80 794.4,987.37 800.1,986.90C805.9,986.43 811.6,984.53 818.5,981.20C825.4,977.87 835.8,971.70 841.5,966.90C847.2,962.10 847.2,958.83 853.0,952.40C858.8,945.97 870.2,933.35 876.0,928.30C881.8,923.25 883.7,923.52 887.5,922.10C891.3,920.68 895.2,919.53 899.0,919.80C902.8,920.07 905.1,920.95 910.5,923.70C915.9,926.45 926.2,931.70 931.2,936.30C936.2,940.90 937.1,947.08 940.4,951.30C943.7,955.52 949.4,959.88 951.2,961.60" fill="none" stroke="#2a2a2a" stroke-width="2.1"/>
</g>
</svg>
</body></html>
